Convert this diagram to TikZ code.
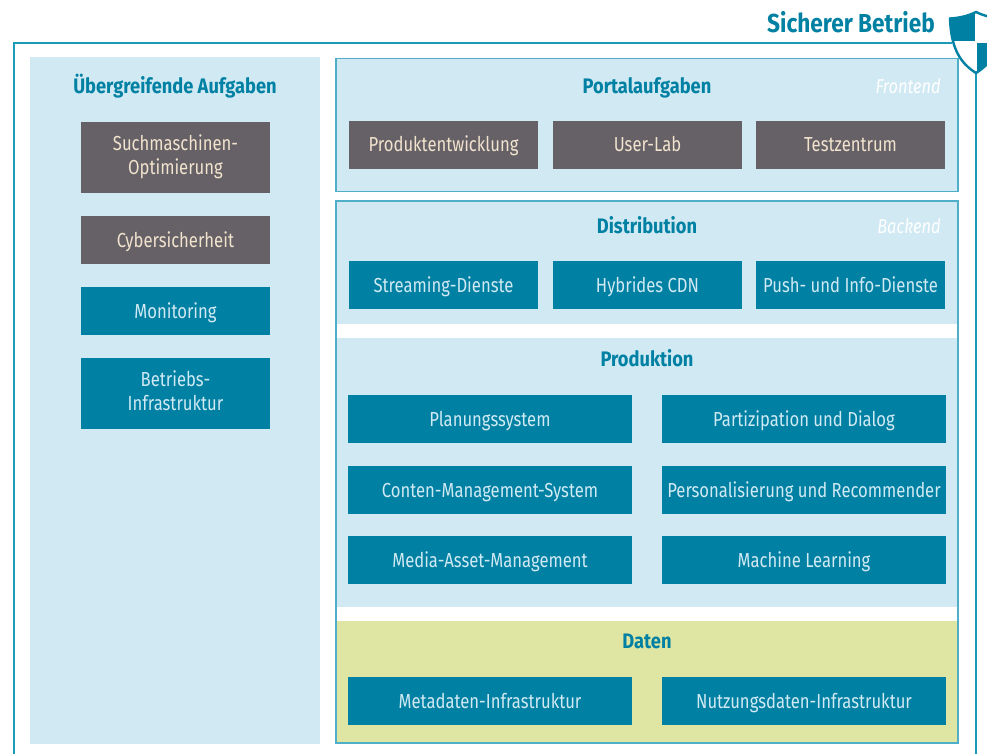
\documentclass[tikz,border=0pt]{standalone}
\usepackage{fontspec}
\setmainfont[FakeStretch=0.82,BoldFeatures={FakeStretch=0.87}]{Fira Sans}
\definecolor{teal1}{HTML}{0081A3}
\definecolor{frame1}{HTML}{1B9BB8}
\definecolor{frame2}{HTML}{4FAEC8}
\definecolor{pale}{HTML}{D0E9F3}
\definecolor{olive1}{HTML}{DFE6A3}
\definecolor{grey1}{HTML}{656166}
\definecolor{cream}{HTML}{F2E3CE}
\definecolor{icetext}{HTML}{D0E9F3}
\newcommand{\shieldpath}{(976,12) .. controls (968,16) and (959,18) .. (950,18.5) .. controls (951,48) and (960,63) .. (976,73) .. controls (992,63) and (1001,48) .. (1002,18.5) .. controls (993,18) and (984,16) .. (976,12) -- cycle}
\tikzset{%
    panel/.style={inner sep=0pt,fill=pale,minimum width=#1},
    panel/.default=622,
    lined/.style={draw=frame2,line width=1.5},
    head/.style={inner sep=0pt,text=teal1,font=\fontsize{21}{24}\selectfont\bfseries,
        execute at begin node={\rule{0pt}{19.4pt}},execute at end node={\rule[-4pt]{0pt}{4pt}}},
    tagtext/.style={head,text=white,font=\fontsize{20}{24}\selectfont\itshape,anchor=east},
    blue/.style={inner sep=0pt,fill=teal1,text=icetext,align=center,font=\fontsize{20.3}{24.5}\selectfont,
        execute at begin node={\rule{0pt}{19.5pt}},execute at end node={\rule[-5.5pt]{0pt}{5.5pt}}},
    grey/.style={blue,fill=grey1,text=cream},
    wide/.style={minimum width=284,minimum height=48},
    small/.style={minimum width=189,minimum height=48},
    tall/.style={minimum width=189,minimum height=71}
}
\begin{document}
\begin{tikzpicture}[x=1pt,y=-1pt]
        \useasboundingbox (0,0) rectangle (987,754);
        % outer frame
        \coordinate (f1) at (14,754);
        \coordinate (f2) at (14,43);
        \coordinate (f3) at (952,43);
        \coordinate (f4) at (976,754);
        \coordinate (f5) at (976,72);
        \draw[frame1,line width=1.6] (f1) -- (f2) -- (f3);
        \draw[frame1,line width=1.6] (f5) -- (f4);

        % shield
        \fill[white] \shieldpath;
        \begin{scope}
            \clip \shieldpath;
            \fill[teal1] (945,5) rectangle (975.3,41.2);
            \fill[teal1] (976.7,42.8) rectangle (1005,80);
        \end{scope}
        \draw[teal1,line width=2.4,line join=miter] \shieldpath;
        \node[head,anchor=east,font=\fontsize{26}{28}\selectfont\bfseries] (title) at (935,23.5) {Sicherer Betrieb};

        % left column
        \node[panel=290,minimum height=687] (left) at (175,400.5) {};
        \node[head] (lefthead) at (175,86) {Übergreifende Aufgaben};
        \node[grey,tall] (seo) at (175.5,157.5) {Suchmaschinen-\\Optimierung};
        \node[grey,small] (cyber) at (175.5,240) {Cybersicherheit};
        \node[blue,small] (moni) at (175.5,311) {Monitoring};
        \node[blue,tall] (infra) at (175.5,393.5) {Betriebs-\\Infrastruktur};

        % frontend
        \node[panel,lined,minimum height=133] (front) at (647,125) {};
        \node[head] (fronthead) at (647,86) {Portalaufgaben};
        \node[tagtext] (fronttag) at (941,86) {Frontend};
        \node[grey,small] (p1) at (443.5,145) {Produktentwicklung};
        \node[grey,small] (p2) at (647.5,145) {User-Lab};
        \node[grey,small] (p3) at (850.5,145) {Testzentrum};

        % backend
        \node[panel,lined,minimum height=542] (back) at (647,472) {};
        \node[panel=620,fill=white,minimum height=14] (gap1) at (647,331) {};
        \node[panel=620,fill=white,minimum height=14] (gap2) at (647,614) {};
        \node[panel=620,fill=olive1,minimum height=121] (data) at (647,681.5) {};
        \node[head] (disthead) at (647,226) {Distribution};
        \node[tagtext] (backtag) at (941,226) {Backend};
        \node[blue,small] (d1) at (443.5,285) {Streaming-Dienste};
        \node[blue,small] (d2) at (647.5,285) {Hybrides CDN};
        \node[blue,small] (d3) at (850.5,285) {Push- und Info-Dienste};

        \node[head] (prodhead) at (647,359) {Produktion};
        \node[blue,wide] (a1) at (490,419) {Planungssystem};
        \node[blue,wide] (b1) at (804,419) {Partizipation und Dialog};
        \node[blue,wide] (a2) at (490,490) {Conten-Management-System};
        \node[blue,wide] (b2) at (804,490) {Personalisierung und Recommender};
        \node[blue,wide] (a3) at (490,560) {Media-Asset-Management};
        \node[blue,wide] (b3) at (804,560) {Machine Learning};

        \node[head] (datahead) at (647,641) {Daten};
        \node[blue,wide] (a4) at (490,701) {Metadaten-Infrastruktur};
        \node[blue,wide] (b4) at (804,701) {Nutzungsdaten-Infrastruktur};
    \end{tikzpicture}
\end{document}
